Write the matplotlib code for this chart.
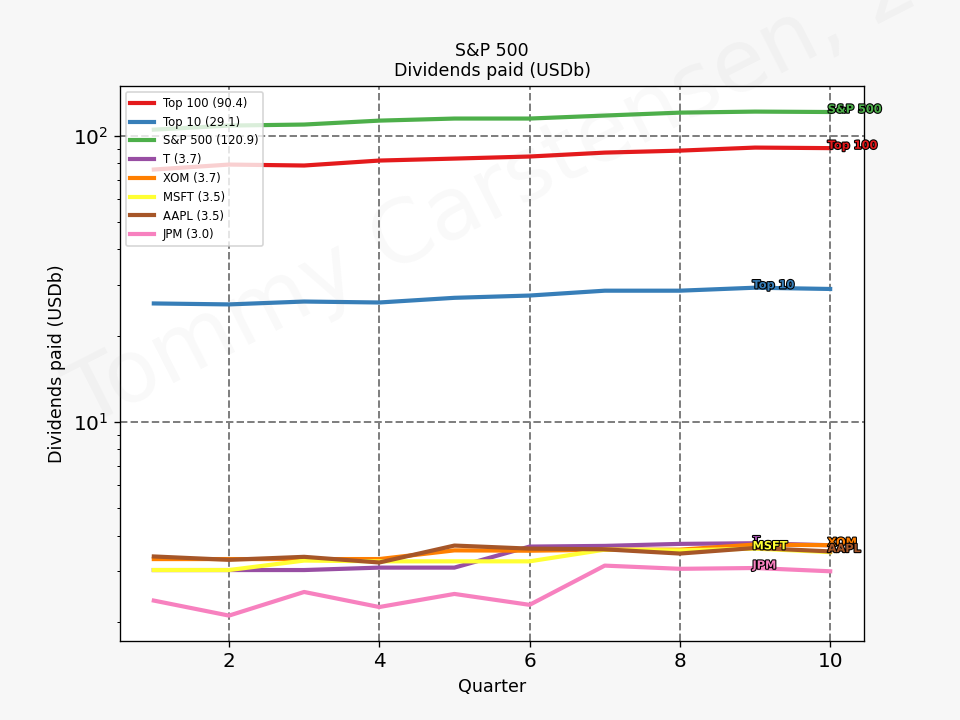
import matplotlib
matplotlib.use('Agg')

import numpy as np
import matplotlib.pyplot as plt
import matplotlib.patheffects as pe

# Quarters and dividends paid (USDb).
quarters = np.arange(1, 11)

top100 = [76.1, 79.2, 78.6, 81.8, 83.1, 84.5, 87.2, 88.6, 90.8, 90.4]
top10 = [25.9, 25.7, 26.3, 26.1, 27.1, 27.6, 28.7, 28.7, 29.4, 29.1]
sp500 = [104.9, 108.4, 109.3, 112.8, 114.7, 114.7, 117.5, 120.3, 121.3, 120.9]
t_vals = [3.03, 3.03, 3.03, 3.09, 3.09, 3.66, 3.68, 3.74, 3.76, 3.70]
xom = [3.31, 3.31, 3.31, 3.31, 3.55, 3.54, 3.57, 3.57, 3.72, 3.70]
msft = [3.03, 3.03, 3.27, 3.25, 3.25, 3.25, 3.57, 3.55, 3.60, 3.50]
aapl = [3.38, 3.29, 3.37, 3.22, 3.69, 3.60, 3.58, 3.46, 3.62, 3.52]
jpm = [2.37, 2.10, 2.54, 2.25, 2.50, 2.29, 3.14, 3.06, 3.08, 3.00]

names = ['Top 100', 'Top 10', 'S&P 500', 'T', 'XOM', 'MSFT', 'AAPL', 'JPM']
series = [top100, top10, sp500, t_vals, xom, msft, aapl, jpm]
# quarter at which each series gets its text label
label_at = [10, 9, 10, 9, 10, 9, 10, 9]

colors = plt.get_cmap('Set1').colors

(fig, ax) = plt.subplots(figsize=(8, 6), dpi=120)
fig.patch.set_facecolor('#f7f7f7')

for name, vals, c, lx in zip(names, series, colors, label_at):
    ax.plot(quarters, vals, color=c, lw=2.5,
            label='%s (%.1f)' % (name, vals[-1]))
    ax.annotate(name, (lx, vals[lx - 1]), xytext=(-1.5, 2),
                textcoords='offset points', color=c, fontsize=6.8,
                ha='left', va='center_baseline', fontweight='bold',
                path_effects=[pe.withStroke(linewidth=1.3, foreground='black')])

ax.set_yscale('log')
ax.grid(True, which='major', linestyle='--', color='gray', linewidth=1.2)
ax.tick_params(axis='both', which='major', labelsize=12)
ax.set_xlabel('Quarter', fontsize=10.5)
ax.set_ylabel('Dividends paid (USDb)', fontsize=10.5)
ax.set_title('S&P 500\nDividends paid (USDb)', fontsize=10.4)
ax.legend(loc='upper left', fontsize='x-small')

# Watermark
fig.text(0.09, 0.405, 'Tommy Carstensen, 2019', fontsize=52, color='gray',
         alpha=0.05, rotation=27, rotation_mode='anchor',
         ha='left', va='baseline')

plt.savefig('out.png', facecolor=fig.get_facecolor())
